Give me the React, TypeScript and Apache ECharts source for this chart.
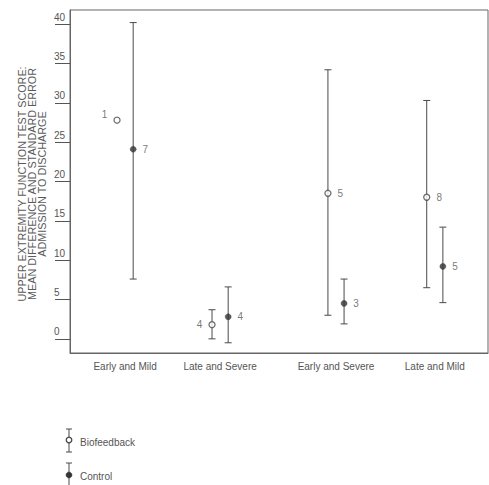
import React, { useEffect, useRef } from "react";
import * as echarts from "echarts";

const categories = ["Early and Mild", "Late and Severe", "Early and Severe", "Late and Mild"];
const categoryPositions = [0.58, 1.58, 2.8, 3.84];
const yTicks = [0, 5, 10, 15, 20, 25, 30, 35, 40];

const bioMean = [27.8, 1.8, 18.5, 18.0];
const bioLow: (number | null)[] = [null, 0.0, 3.0, 6.5];
const bioHigh: (number | null)[] = [null, 3.7, 34.2, 30.3];
const bioN = [1, 4, 5, 8];
const bioLabelSide = ["left", "left", "right", "right"];

const ctrlMean = [24.1, 2.8, 4.5, 9.2];
const ctrlLow = [7.6, -0.5, 1.9, 4.6];
const ctrlHigh = [40.2, 6.6, 7.6, 14.2];
const ctrlN = [7, 4, 3, 5];

const OFF = 0.085;
const FONT = "'Liberation Sans', Arial, Helvetica, sans-serif";
const LINE = "#4a4a4a";
const TEXT = "#555555";

function errorSeries(xs: number[], lows: (number | null)[], highs: (number | null)[]) {
  const data: number[][] = [];
  xs.forEach((x, i) => {
    const lo = lows[i];
    const hi = highs[i];
    if (lo !== null && hi !== null) data.push([x, lo, hi]);
  });
  return {
    type: "custom",
    silent: true,
    data,
    z: 2,
    renderItem: (_params: any, api: any) => {
      const x = api.value(0);
      const pLo = api.coord([x, api.value(1)]);
      const pHi = api.coord([x, api.value(2)]);
      const hw = 3.5;
      const style = { stroke: LINE, lineWidth: 1 };
      return {
        type: "group",
        children: [
          { type: "line", shape: { x1: pLo[0], y1: pLo[1], x2: pHi[0], y2: pHi[1] }, style },
          { type: "line", shape: { x1: pHi[0] - hw, y1: pHi[1], x2: pHi[0] + hw, y2: pHi[1] }, style },
          { type: "line", shape: { x1: pLo[0] - hw, y1: pLo[1], x2: pLo[0] + hw, y2: pLo[1] }, style },
        ],
      };
    },
  };
}

const labelBase = {
  show: true,
  distance: 6,
  fontFamily: FONT,
  fontSize: 10,
  color: TEXT,
  textBorderWidth: 0,
};

export default function App() {
  const ref = useRef<HTMLDivElement>(null);
  useEffect(() => {
    if (!ref.current) return;
    const chart = echarts.init(ref.current, undefined, { renderer: "svg" });
    const bioX = categoryPositions.map((p) => p - OFF);
    const ctrlX = categoryPositions.map((p) => p + OFF);

    const option: any = {
      animation: false,
      backgroundColor: "#fff",
      grid: {
        left: 70,
        top: 10,
        right: 1,
        bottom: 132,
        show: true,
        borderColor: "#666",
        borderWidth: 1,
        backgroundColor: "transparent",
      },
      xAxis: {
        type: "value",
        min: 0,
        max: 4.4,
        splitLine: { show: false },
        axisLine: { show: true, onZero: false, lineStyle: { color: "#666" } },
        axisTick: { show: false },
        axisLabel: {
          customValues: categoryPositions,
          margin: 8,
          fontFamily: FONT,
          fontSize: 10,
          color: TEXT,
          formatter: (v: number) => {
            let best = 0;
            categoryPositions.forEach((p, i) => {
              if (Math.abs(p - v) < Math.abs(categoryPositions[best] - v)) best = i;
            });
            return categories[best];
          },
        },
      },
      yAxis: {
        type: "value",
        min: -1.8,
        max: 41.8,
        splitLine: { show: false },
        axisLine: { show: true, lineStyle: { color: "#666" } },
        axisTick: {
          show: true,
          customValues: yTicks,
          inside: false,
          length: 15,
          lineStyle: { color: "#555" },
        },
        axisLabel: {
          customValues: yTicks,
          margin: 16,
          align: "left",
          verticalAlign: "bottom",
          padding: [0, 0, 2, 0],
          fontFamily: FONT,
          fontSize: 10,
          color: TEXT,
        },
      },
      series: [
        errorSeries(bioX, bioLow, bioHigh),
        errorSeries(ctrlX, ctrlLow, ctrlHigh),
        {
          type: "scatter",
          name: "Biofeedback",
          symbol: "circle",
          symbolSize: 6,
          z: 5,
          itemStyle: { color: "#fff", borderColor: LINE, borderWidth: 1.3 },
          label: { ...labelBase, formatter: (p: any) => String(p.value[2]) },
          data: bioX.map((x, i) => ({
            value: [x, bioMean[i], bioN[i]],
            label: {
              position: bioLabelSide[i],
              offset: i === 0 ? [0, -6] : [0, 0],
            },
          })),
        },
        {
          type: "scatter",
          name: "Control",
          symbol: "circle",
          symbolSize: 6,
          z: 5,
          itemStyle: { color: "#333", borderColor: "#333", borderWidth: 0.5 },
          label: { ...labelBase, position: "right", formatter: (p: any) => String(p.value[2]) },
          data: ctrlX.map((x, i) => ({ value: [x, ctrlMean[i], ctrlN[i]] })),
        },
      ],
      graphic: [
        {
          type: "text",
          x: 32,
          y: 184,
          rotation: Math.PI / 2,
          style: {
            text: "UPPER EXTREMITY FUNCTION TEST SCORE:\nMEAN DIFFERENCE AND STANDARD ERROR\nADMISSION TO DISCHARGE",
            align: "center",
            verticalAlign: "middle",
            fontFamily: FONT,
            fontSize: 10.8,
            lineHeight: 10,
            fill: "#5a5a5a",
          },
        },
        { type: "line", shape: { x1: 66, y1: 429, x2: 72, y2: 429 }, style: { stroke: LINE, lineWidth: 1 } },
        { type: "line", shape: { x1: 69, y1: 429, x2: 69, y2: 452 }, style: { stroke: LINE, lineWidth: 1 } },
        { type: "line", shape: { x1: 66, y1: 452, x2: 72, y2: 452 }, style: { stroke: LINE, lineWidth: 1 } },
        { type: "circle", shape: { cx: 69, cy: 440, r: 2.8 }, style: { fill: "#fff", stroke: LINE, lineWidth: 1.3 } },
        {
          type: "text",
          x: 80,
          y: 442,
          style: { text: "Biofeedback", fontFamily: FONT, fontSize: 10, fill: TEXT, verticalAlign: "middle" },
        },
        { type: "line", shape: { x1: 66, y1: 463, x2: 72, y2: 463 }, style: { stroke: LINE, lineWidth: 1 } },
        { type: "line", shape: { x1: 69, y1: 463, x2: 69, y2: 486 }, style: { stroke: LINE, lineWidth: 1 } },
        { type: "circle", shape: { cx: 69, cy: 475, r: 3 }, style: { fill: "#333", stroke: "#333", lineWidth: 0.5 } },
        {
          type: "text",
          x: 80,
          y: 476,
          style: { text: "Control", fontFamily: FONT, fontSize: 10, fill: TEXT, verticalAlign: "middle" },
        },
      ],
    };
    chart.setOption(option);
    return () => chart.dispose();
  }, []);
  return (
    <div
      ref={ref}
      style={{ position: "fixed", left: 0, top: 0, width: 489, height: 485, background: "#fff" }}
    />
  );
}
